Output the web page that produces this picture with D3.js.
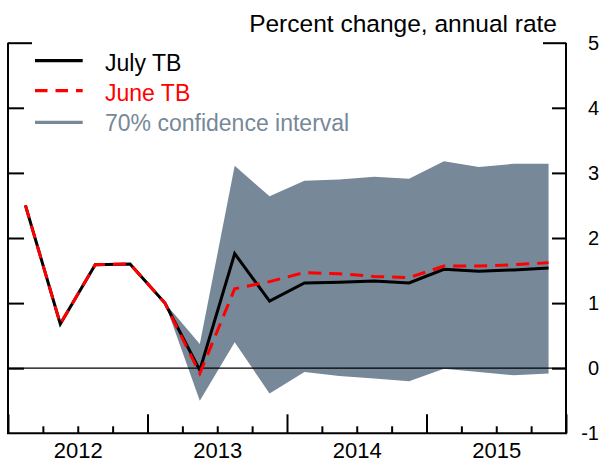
<!DOCTYPE html>
<html>
<head>
<meta charset="utf-8">
<script src="https://cdn.jsdelivr.net/npm/d3@7"></script>
<style>
  html, body { margin: 0; padding: 0; background: #fff; }
  svg { display: block; font-family: "Liberation Sans", Arial, Helvetica, sans-serif; }
</style>
</head>
<body>
<svg id="chart" width="604" height="463"></svg>
<script>
// ---- Data ----
const quarters = ["2012Q1","2012Q2","2012Q3","2012Q4","2013Q1","2013Q2","2013Q3","2013Q4",
                  "2014Q1","2014Q2","2014Q3","2014Q4","2015Q1","2015Q2","2015Q3","2015Q4"];
const julyTB = [2.50, 0.68, 1.59, 1.60, 1.00, -0.03, 1.76, 1.03, 1.31, 1.32, 1.34, 1.31, 1.52, 1.49, 1.51, 1.54];
const juneTB = [2.50, 0.68, 1.59, 1.60, 1.00, -0.08, 1.22, 1.33, 1.47, 1.45, 1.41, 1.39, 1.57, 1.57, 1.59, 1.62];
const bandUpper = [null, null, null, null, 1.00, 0.37, 3.11, 2.64, 2.88, 2.90, 2.94, 2.91, 3.18, 3.09, 3.14, 3.14];
const bandLower = [null, null, null, null, 1.00, -0.50, 0.40, -0.39, -0.06, -0.12, -0.16, -0.20, -0.01, -0.06, -0.11, -0.08];
const yearLabels = ["2012", "2013", "2014", "2015"];
const yTickValues = [-1, 0, 1, 2, 3, 4, 5];
const yTickLabels = ["-1", "0", "1", "2", "3", "4", "5"];
const legendLabels = ["July TB", "June TB", "70% confidence interval"];
const titleText = "Percent change, annual rate";

// ---- Layout ----
const L = 8, R = 566, T = 42.7, B = 433.3;
const svg = d3.select("#chart");
const x = d3.scaleLinear().domain([0, quarters.length]).range([L, R]);
const y = d3.scaleLinear().domain([-1, 5]).range([B, T]);
const GRAY = "#778899";

// Band
const bandData = quarters.map((q, i) => ({ i, u: bandUpper[i], l: bandLower[i] }));
const area = d3.area()
  .defined(d => d.u != null && d.l != null)
  .x(d => x(d.i + 0.5)).y0(d => y(d.l)).y1(d => y(d.u));
svg.append("path").datum(bandData).attr("d", area).attr("fill", GRAY);

// Zero line
svg.append("line").attr("x1", L).attr("x2", R).attr("y1", y(0)).attr("y2", y(0))
  .attr("stroke", "#000").attr("stroke-width", 1.3);

// Lines
const line = d3.line().x((d, i) => x(i + 0.5)).y(d => y(d));
svg.append("path").datum(julyTB).attr("d", line).attr("fill", "none")
  .attr("stroke", "#000").attr("stroke-width", 3).attr("stroke-linejoin", "miter");
svg.append("path").datum(juneTB).attr("d", line).attr("fill", "none")
  .attr("stroke", "#ff0000").attr("stroke-width", 3).attr("stroke-dasharray", "13,8");

// Left axis (ticks inward)
const gl = svg.append("g").attr("transform", `translate(${L},0)`)
  .call(d3.axisLeft(y).tickValues(yTickValues.filter(v => v > -1)).tickSize(-16).tickSizeOuter(0).tickFormat(""));
gl.selectAll(".tick line").attr("stroke-width", 2).filter(d => d === 5).attr("x2", 24);
gl.select(".domain").attr("stroke-width", 2).attr("d", `M0,${T}V${B}`);

// Right axis (ticks inward, labels right-aligned)
const gr = svg.append("g").attr("transform", `translate(${R},0)`)
  .call(d3.axisRight(y).tickValues(yTickValues).tickSize(-14).tickSizeOuter(0)
    .tickFormat(d => yTickLabels[yTickValues.indexOf(d)]));
gr.selectAll(".tick line").attr("stroke-width", 2).filter(d => d === 5).attr("x2", -23);
gr.selectAll(".tick line").filter(d => d === -1).remove();
gr.select(".domain").attr("stroke-width", 2).attr("d", `M0,${T}V${B}`);
gr.selectAll(".tick text").attr("x", 33).attr("text-anchor", "end")
  .attr("font-size", 20).attr("font-family", "Liberation Sans, Arial, sans-serif").attr("fill", "#000");

// Bottom axis: quarter ticks
const qTicks = d3.range(0, quarters.length + 1);
const gb = svg.append("g").attr("transform", `translate(0,${B})`)
  .call(d3.axisBottom(x).tickValues(qTicks).tickSize(-7).tickSizeOuter(0).tickFormat(""));
gb.selectAll(".tick line").attr("stroke-width", 2).filter(d => d % 4 === 0).attr("y2", -19);
gb.select(".domain").attr("stroke-width", 2).attr("d", `M${L - 1},0H${R + 1}`);

// Year labels
const gy = svg.append("g").attr("transform", `translate(0,${B})`)
  .call(d3.axisBottom(x).tickValues(yearLabels.map((_, k) => k * 4 + 2)).tickSize(0)
    .tickFormat((d, k) => yearLabels[k]));
gy.select(".domain").remove();
gy.selectAll(".tick text").attr("y", 0).attr("dy", 25).attr("font-size", 22)
  .attr("font-family", "Liberation Sans, Arial, sans-serif").attr("fill", "#000");

// Title
svg.append("text").attr("x", 557).attr("y", 32).attr("text-anchor", "end")
  .attr("font-size", 24.5).attr("fill", "#000").text(titleText);

// Legend
const legColors = ["#000", "#ff0000", GRAY];
const legY = [60.7, 90.7, 122.3];
const legTextY = [70.7, 100.5, 130.5];
legendLabels.forEach((lab, k) => {
  svg.append("line").attr("x1", 35).attr("x2", 82.7).attr("y1", legY[k]).attr("y2", legY[k])
    .attr("stroke", legColors[k]).attr("stroke-width", 3.2)
    .attr("stroke-dasharray", k === 1 ? "12.5,8" : null);
  svg.append("text").attr("x", 105).attr("y", legTextY[k]).attr("font-size", 23)
    .attr("fill", legColors[k]).text(lab);
});
</script>
</body>
</html>
